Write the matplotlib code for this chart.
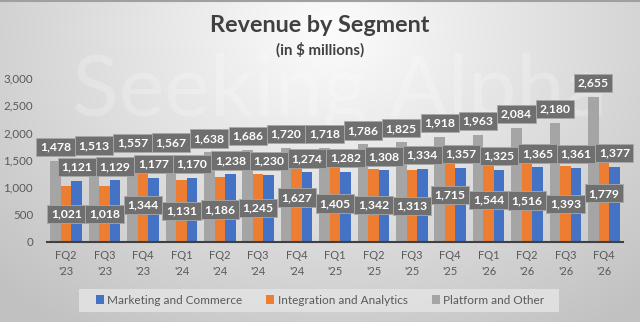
import numpy as np
import matplotlib
matplotlib.use("Agg")
import matplotlib.pyplot as plt

quarters = ["FQ2\n'23", "FQ3\n'23", "FQ4\n'23", "FQ1\n'24", "FQ2\n'24", "FQ3\n'24", "FQ4\n'24",
            "FQ1\n'25", "FQ2\n'25", "FQ3\n'25", "FQ4\n'25", "FQ1\n'26", "FQ2\n'26", "FQ3\n'26", "FQ4\n'26"]
marketing = [1121, 1129, 1177, 1170, 1238, 1230, 1274, 1282, 1308, 1334, 1357, 1325, 1365, 1361, 1377]
integration = [1021, 1018, 1344, 1131, 1186, 1245, 1627, 1405, 1342, 1313, 1715, 1544, 1516, 1393, 1779]
platform = [1478, 1513, 1557, 1567, 1638, 1686, 1720, 1718, 1786, 1825, 1918, 1963, 2084, 2180, 2655]
yticks = [0, 500, 1000, 1500, 2000, 2500, 3000]

C_BLUE = "#4472c4"
C_ORANGE = "#ed7d31"
C_GRAY = "#a5a5a5"
TXT = "#595959"
FONT = ["Lato", "DejaVu Sans"]

W, H = 640, 322
fig = plt.figure(figsize=(W / 100, H / 100), dpi=100)

# background radial gradient
bg = fig.add_axes([0, 0, 1, 1], zorder=-10)
yy, xx = np.mgrid[0:H, 0:W]
d = np.sqrt(((xx - 330) / 420.0) ** 2 + ((yy - 30) / 330.0) ** 2)
val = np.clip(0.99 - 0.21 * d, 0.76, 1.0)
img = np.dstack([val, val, val])
bg.imshow(img, aspect="auto", extent=[0, W, H, 0])
bg.set_xlim(0, W)
bg.set_ylim(H, 0)
bg.axis("off")
bg.plot([0, W], [0.5, 0.5], color="#a0a0a0", lw=1.5)
# watermark
bg.text(340, 92, "Seeking Alpha", fontsize=62, color="white", alpha=0.22,
        ha="center", va="center", family=FONT)
# legend background box
bg.add_patch(plt.Rectangle((79, 289), 480, 23, facecolor="#e2e2e2", edgecolor="none", alpha=0.9))

fig.text(0.5, 1 - 25 / H, "Revenue by Segment", ha="center", va="center",
         fontsize=16.8, fontweight="bold", color="#404040", family=FONT)
fig.text(0.5, 1 - 50 / H, "(in $ millions)", ha="center", va="center",
         fontsize=10.8, fontweight="bold", color="#404040", family=FONT)

ax = fig.add_axes([47 / W, (H - 242) / H, 576 / W, (242 - 78) / H])
ax.patch.set_alpha(0)
x = np.arange(len(quarters))
bw = 0.275
ax.bar(x - bw, platform, bw, color=C_GRAY, label="Platform and Other", zorder=2)
ax.bar(x, integration, bw, color=C_ORANGE, label="Integration and Analytics", zorder=2)
ax.bar(x + bw, marketing, bw, color=C_BLUE, label="Marketing and Commerce", zorder=2)

ax.set_xlim(-0.5, len(quarters) - 0.5)
ax.set_ylim(0, 3000)
ax.set_yticks(yticks)
ax.set_yticklabels([f"{v:,}" for v in yticks], fontsize=8.3, color=TXT, family=FONT)
ax.set_xticks(x)
ax.set_xticklabels(quarters, fontsize=8, color=TXT, family=FONT, linespacing=1.5)
ax.tick_params(length=0, pad=6)
ax.tick_params(axis="y", pad=10)
for s in ["top", "right", "left"]:
    ax.spines[s].set_visible(False)
ax.spines["bottom"].set_color("#404040")
ax.spines["bottom"].set_linewidth(1.5)
ax.spines["bottom"].set_zorder(3)

box = dict(boxstyle="square,pad=0.3", fc="#6f6f6f", ec="#a8a8a8", lw=0.6)

def lab(xp, yp, v, off):
    ax.annotate(f"{v:,}", (xp, yp), xytext=(0, off), textcoords="offset points",
                ha="center", va="center", fontsize=8.7, fontweight="bold", color="white",
                family=FONT, bbox=box, zorder=5, annotation_clip=False)

for i in range(len(quarters)):
    lab(x[i] - bw, platform[i], platform[i], 10)
for i in range(len(quarters)):
    lab(x[i] + bw, marketing[i], marketing[i], 10)
for i in range(len(quarters)):
    lab(x[i], integration[i] / 2, integration[i], 0)

h, l = ax.get_legend_handles_labels()
order = [2, 1, 0]
leg = fig.legend([h[k] for k in order], [l[k] for k in order], loc="center",
                 bbox_to_anchor=(320 / W, 1 - 300 / H), ncol=3, frameon=False,
                 handlelength=0.7, handleheight=0.7, handletextpad=0.3,
                 columnspacing=2.0, prop={"family": FONT, "size": 8.5})
for t in leg.get_texts():
    t.set_color(TXT)

fig.savefig("out.png", dpi=100)
